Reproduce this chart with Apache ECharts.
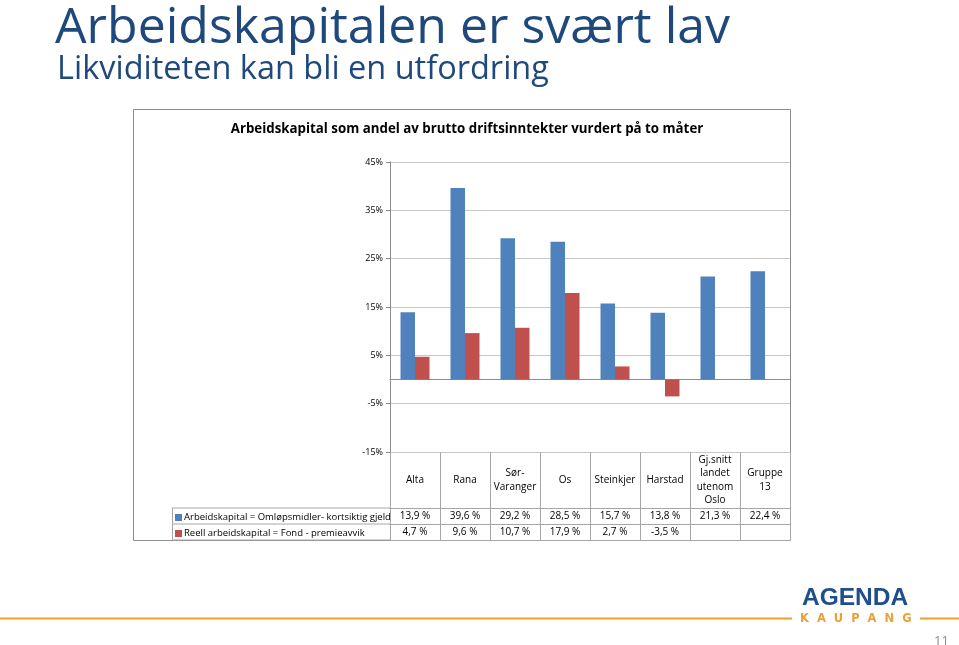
<!DOCTYPE html>
<html><head><meta charset="utf-8">
<script src="https://cdn.jsdelivr.net/npm/echarts@6/dist/echarts.min.js"></script>
<style>html,body{margin:0;padding:0;background:#fff}#c{width:959px;height:645px}</style>
</head><body><div id="c"></div>
<script>
const categories = ['Alta','Rana','Sør-\nVaranger','Os','Steinkjer','Harstad','Gj.snitt\nlandet\nutenom\nOslo','Gruppe\n13'];
const arbeidskapital = [13.9, 39.6, 29.2, 28.5, 15.7, 13.8, 21.3, 22.4];
const reell = [4.7, 9.6, 10.7, 17.9, 2.7, -3.5, null, null];
const seriesNames = ['Arbeidskapital = Omløpsmidler- kortsiktig gjeld', 'Reell arbeidskapital = Fond - premieavvik'];
const yTicks = {min: -15, max: 45, interval: 10};

const FONT = 'Open Sans';
const fmt = v => (v === null || v === undefined) ? '' : v.toFixed(1).replace('.', ',') + ' %';
const gridLeft = 390, gridRight = 790, gridTop = 162, gridBottom = 452;
const gray = '#a6a6a6';
const tableLabel = {interval: 0, align: 'center', verticalAlign: 'middle', fontSize: 10, color: '#000', fontFamily: FONT};

const chart = echarts.init(document.getElementById('c'));
const idx = categories.map((_, i) => i);
chart.setOption({
  animation: false,
  textStyle: {fontFamily: FONT},
  title: [
    {text: 'Arbeidskapitalen er svært lav', left: 55, top: 4, padding: 0, textStyle: {fontFamily: FONT, fontSize: 50, fontWeight: 'normal', color: '#1f497d'}},
    {text: 'Likviditeten kan bli en utfordring', left: 57, top: 53, padding: 0, textStyle: {fontFamily: FONT, fontSize: 32.5, fontWeight: 'normal', color: '#1f497d'}},
    {text: 'Arbeidskapital som andel av brutto driftsinntekter vurdert på to måter', left: 462, textAlign: 'center', top: 118, textStyle: {fontFamily: FONT, fontSize: 13.3, fontWeight: 'bold', color: '#000'}},
    {text: '11', left: 929, top: 630, textStyle: {fontFamily: FONT, fontSize: 13, fontWeight: 'normal', color: '#8c8c8c'}}
  ],
  legend: {
    orient: 'vertical', left: 175, top: 512, padding: 0, itemGap: 5, itemWidth: 7, itemHeight: 7, icon: 'rect',
    data: seriesNames,
    textStyle: {fontFamily: FONT, fontSize: 9.5, color: '#000', padding: [0,0,0,-3], lineHeight: 11},
    selectedMode: false
  },
  grid: {left: gridLeft, right: 959 - gridRight, top: gridTop, bottom: 645 - gridBottom, containLabel: false},
  xAxis: [
    {type: 'category', data: categories, axisLine: {onZero: true, lineStyle: {color: '#8c8c8c', width: 1}}, axisTick: {show: false}, axisLabel: {show: false}, splitLine: {show: false}},
    {type: 'category', data: categories, position: 'bottom', axisLine: {show: false, onZero: false}, axisTick: {show: true, length: 88, lineStyle: {color: gray}}, axisLabel: Object.assign({}, tableLabel, {margin: 28, lineHeight: 13.5})},
    {type: 'category', data: arbeidskapital.map(fmt), position: 'bottom', offset: 56, axisLine: {show: true, onZero: false, lineStyle: {color: gray}}, axisTick: {show: false}, axisLabel: Object.assign({}, tableLabel, {margin: 8})},
    {type: 'category', data: reell.map(fmt), position: 'bottom', offset: 72, axisLine: {show: true, onZero: false, lineStyle: {color: gray}}, axisTick: {show: false}, axisLabel: Object.assign({}, tableLabel, {margin: 8})},
    {type: 'category', data: idx, position: 'bottom', offset: 88, axisLine: {show: true, onZero: false, lineStyle: {color: gray}}, axisTick: {show: false}, axisLabel: {show: false}}
  ],
  yAxis: {
    type: 'value', min: yTicks.min, max: yTicks.max, interval: yTicks.interval,
    axisLine: {show: true, lineStyle: {color: '#8c8c8c'}},
    axisTick: {show: true, length: 4, lineStyle: {color: '#8c8c8c'}},
    axisLabel: {formatter: '{value}%', fontSize: 9, color: '#000', margin: 7, fontFamily: FONT},
    splitLine: {show: true, lineStyle: {color: '#c8c8c8', width: 1}}
  },
  series: [
    {name: seriesNames[0], type: 'bar', data: arbeidskapital, xAxisIndex: 0, barWidth: 14.5, barGap: '0%', itemStyle: {color: '#4f81bd'}},
    {name: seriesNames[1], type: 'bar', data: reell, xAxisIndex: 0, barWidth: 14.5, barGap: '0%', itemStyle: {color: '#c0504d'}}
  ],
  graphic: [
    {type: 'rect', shape: {x: 133.5, y: 109.5, width: 657, height: 431}, style: {fill: 'none', stroke: '#8c8c8c', lineWidth: 1}, silent: true, z: -1},
    {type: 'line', shape: {x1: 172, y1: 508, x2: 390, y2: 508}, style: {stroke: gray}},
    {type: 'line', shape: {x1: 172, y1: 524, x2: 390, y2: 524}, style: {stroke: gray}},
    {type: 'line', shape: {x1: 172, y1: 540, x2: 390, y2: 540}, style: {stroke: gray}},
    {type: 'line', shape: {x1: 172.5, y1: 508, x2: 172.5, y2: 540}, style: {stroke: gray}},
    {type: 'line', shape: {x1: 0, y1: 618.5, x2: 792, y2: 618.5}, style: {stroke: '#eea035', lineWidth: 2}},
    {type: 'line', shape: {x1: 920, y1: 618.5, x2: 959, y2: 618.5}, style: {stroke: '#eea035', lineWidth: 2}},
    {type: 'text', left: 802, top: 586, style: {text: 'AGENDA', fontFamily: 'Liberation Sans', fontWeight: 'bold', fontSize: 24.5, fill: '#1f4e8c'}},
    {type: 'text', left: 800, top: 613, style: {text: 'K  A  U  P  A  N  G', fontFamily: 'DejaVu Sans', fontWeight: 'bold', fontSize: 11.5, fill: '#eea035'}}
  ]
});
</script></body></html>
